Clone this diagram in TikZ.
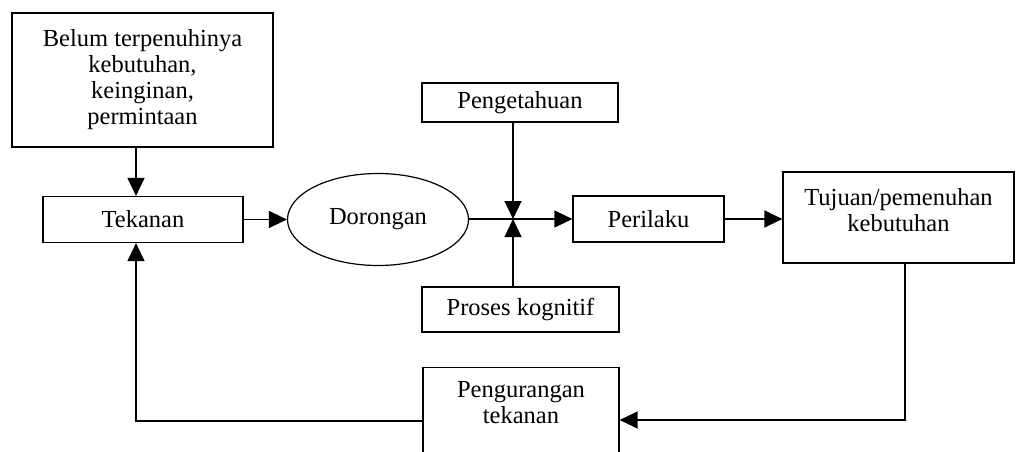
\documentclass[tikz,border=0pt]{standalone}
\usepackage{fontspec}
\setmainfont{Liberation Serif}
\usetikzlibrary{arrows.meta,shapes.geometric,calc}
\begin{document}
\begin{tikzpicture}[x=1pt,y=-1pt,
  box/.style={draw,line width=1.2pt,rectangle,inner sep=0pt,align=center,
    font=\fontsize{24.5}{26}\selectfont},
  txt/.style={align=center,inner sep=0pt,font=\fontsize{24.5}{26}\selectfont},
  arr/.style={line width=1.3pt,-{Triangle[length=18pt,width=17pt]}},
  ln/.style={line width=1.3pt}]
\useasboundingbox (0,0) rectangle (1017,452);
\clip (0,0) rectangle (1017,452);
\node[box,minimum width=261,minimum height=134] (b1) at (142.5,80) {Belum terpenuhinya\\kebutuhan,\\keinginan,\\permintaan};
\node[box,minimum width=200,minimum height=46] (tek) at (143,219.5) {Tekanan};
\node[draw,ellipse,line width=1.2pt,minimum width=181,minimum height=92,inner sep=0pt,
  font=\fontsize{24.5}{26}\selectfont] (dor) at (378,219.5) {Dorongan};
\node[box,minimum width=196,minimum height=39] (peng) at (520,102.5) {Pengetahuan};
\node[box,minimum width=197,minimum height=45] (pk) at (520.5,309.5) {Proses kognitif};
\node[box,minimum width=151,minimum height=46] (per) at (648.5,219) {Perilaku};
\node[box,minimum width=231,minimum height=91] (tuj) at (898.5,217.5) {};
\node[txt] (tujt) at (898.5,210) {Tujuan/pemenuhan\\kebutuhan};
\node[box,minimum width=196,minimum height=93,anchor=north] (pen) at (521,367) {};
\node[txt] (pent) at (521,403) {Pengurangan\\tekanan};
\coordinate (J) at (513,219);
\coordinate (R) at (905,420);
\coordinate (L) at (136,421);
% connectors
\draw[arr] (b1.south -| L) -- (tek.north -| L);
\draw[arr] (tek.east) -- (dor.west |- tek.east);
\draw[ln] (dor.east |- J) -- (J);
\draw[arr] (J) -- (per.west |- J);
\draw[arr] (J |- peng.south) -- (J);
\draw[arr] (J |- pk.north) -- (J);
\draw[arr] (per.east) -- (tuj.west |- per.east);
\draw[arr] (R |- tuj.south) -- (R) -- (pen.east |- R);
\draw[arr] (pen.west |- L) -- (L) -- (tek.south -| L);
\end{tikzpicture}
\end{document}
